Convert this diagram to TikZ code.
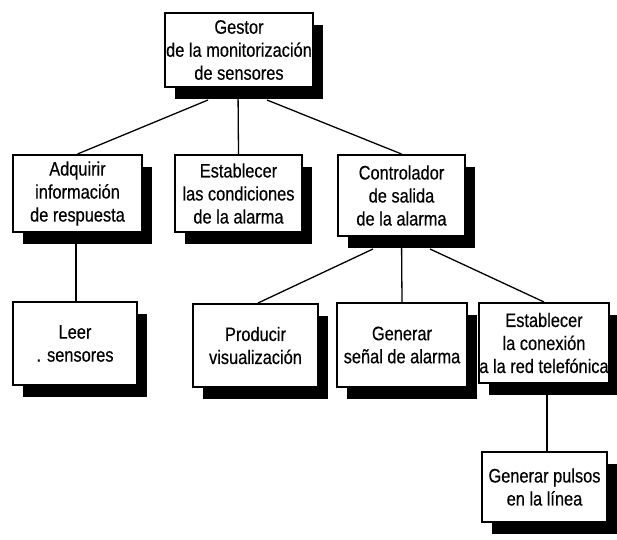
\documentclass[tikz,border=0pt]{standalone}
\usepackage{fontspec}
\setmainfont{Liberation Sans}[FakeStretch=0.84, FakeBold=0.4]
\usetikzlibrary{shadows}
\begin{document}
\begin{tikzpicture}[x=1pt,y=-1pt,
  box/.style={draw=black, line width=2pt, fill=white, align=center,
    inner sep=0pt, font=\fontsize{19.5}{23}\selectfont,
    general shadow={fill=black, shadow xshift=10pt, shadow yshift=-12pt}},
  link/.style={line width=1.3pt, black}]
\useasboundingbox (0,0) rectangle (617,539);

% top level
\node[box, minimum width=148pt, minimum height=74pt] (gestor) at (239,50)
  {Gestor\\de la monitorización\\de sensores};

% second level
\node[box, minimum width=129pt, minimum height=77pt] (adq) at (77.5,193.5)
  {Adquirir\\información\\de respuesta};
\node[box, minimum width=127pt, minimum height=77pt] (estab) at (238.5,193.5)
  {Establecer\\las condiciones\\de la alarma};
\node[box, minimum width=127pt, minimum height=81pt] (ctrl) at (401.5,195.5)
  {Controlador\\de salida\\de la alarma};

% third level
\node[box, minimum width=124pt, minimum height=83pt] (leer) at (75,343.5)
  {Leer\\. sensores};
\node[box, minimum width=125pt, minimum height=83pt] (prod) at (255.5,345.5)
  {Producir\\visualización};
\node[box, minimum width=130pt, minimum height=84pt] (senal) at (402,345)
  {Generar\\señal de alarma};
\node[box, minimum width=128pt, minimum height=80pt] (conex) at (544,343)
  {Establecer\\la conexión\\a la red telefónica};

% fourth level
\node[box, minimum width=125pt, minimum height=70pt] (pulsos) at (544.5,487)
  {Generar pulsos\\en la línea};

% connectors
\draw[link] ([xshift=-31pt,yshift=-12pt]gestor.south) -- (adq.north);
\draw[link] ([xshift=-1pt]gestor.south) -- (estab.north);
\draw[link] ([xshift=28pt,yshift=-12pt]gestor.south) -- (ctrl.north);
\draw[link] ([xshift=-1.5pt]adq.south) -- ([xshift=1pt]leer.north);
\draw[link] ([xshift=-28.5pt,yshift=-12pt]ctrl.south) -- ([xshift=2.5pt]prod.north);
\draw[link] (ctrl.south) -- (senal.north);
\draw[link] ([xshift=28.5pt,yshift=-12pt]ctrl.south) -- (conex.north);
\draw[link] ([xshift=3pt]conex.south) -- ([xshift=2.5pt]pulsos.north);
\end{tikzpicture}
\end{document}
